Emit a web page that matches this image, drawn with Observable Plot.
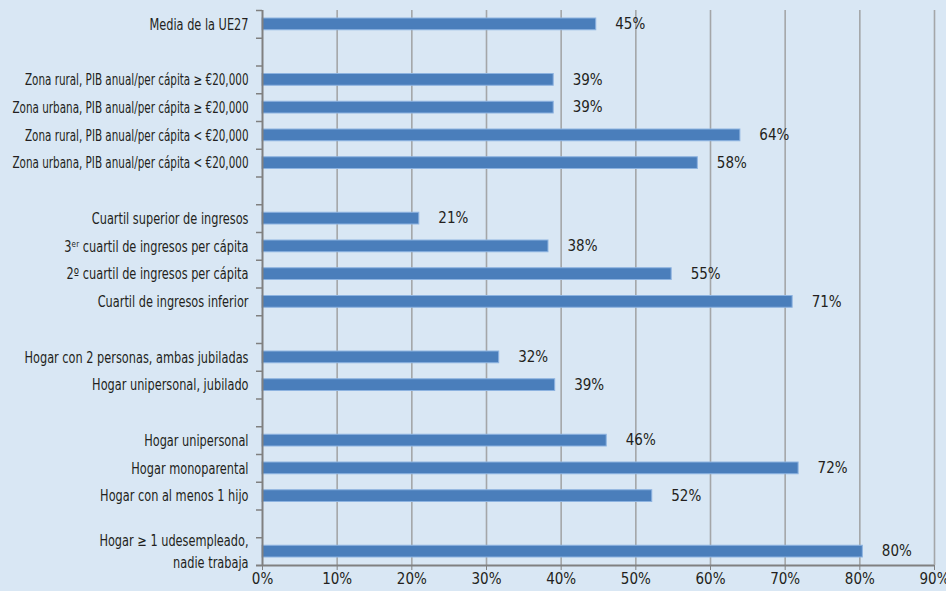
<!DOCTYPE html>
<html><head><meta charset="utf-8">
<script src="https://cdn.jsdelivr.net/npm/d3@7"></script>
<script src="https://cdn.jsdelivr.net/npm/@observablehq/plot@0.6"></script>
<style>
body{margin:0;background:#d9e7f4}
#chart svg{display:block;background:linear-gradient(to right,#eef4fa 9px,#d9e7f4 9px)}
</style>
</head><body><div id="chart"></div>
<script>
const slots = [
  "Media de la UE27", "gap1",
  "Zona rural, PIB anual/per cápita ≥ €20,000",
  "Zona urbana, PIB anual/per cápita ≥ €20,000",
  "Zona rural, PIB anual/per cápita < €20,000",
  "Zona urbana, PIB anual/per cápita < €20,000", "gap2",
  "Cuartil superior de ingresos",
  "3ᵉʳ cuartil de ingresos per cápita",
  "2º cuartil de ingresos per cápita",
  "Cuartil de ingresos inferior", "gap3",
  "Hogar con 2 personas, ambas jubiladas",
  "Hogar unipersonal, jubilado", "gap4",
  "Hogar unipersonal",
  "Hogar monoparental",
  "Hogar con al menos 1 hijo", "gap5",
  "Hogar ≥ 1 udesempleado,\nnadie trabaja"
];
const categories = slots.filter(s => !s.startsWith("gap"));
const values = [44.7, 39, 39, 64, 58.3, 21, 38.3, 54.8, 71, 31.7, 39.2, 46.1, 71.8, 52.2, 80.4];
const xTicks = [0, 10, 20, 30, 40, 50, 60, 70, 80, 90];

const data = categories.map((c, i) => ({c, v: values[i]}));
const font = '"Liberation Sans Narrow","DejaVu Sans Condensed","Roboto",sans-serif';
const W = 946, H = 591, mt = 10, mb = 26, ml = 262, mr = 12;
const step = (H - mt - mb) / slots.length;
const pxPerUnit = (W - ml - mr) / 90;
const tickLen = 6 / pxPerUnit;

const chart = Plot.plot({
  width: W, height: H,
  marginLeft: ml, marginRight: mr, marginTop: mt, marginBottom: mb,
  style: {fontFamily: font, fontSize: "15px", color: "#231f20", background: "transparent", overflow: "visible"},
  x: {domain: [0, 90], ticks: xTicks, label: null},
  y: {domain: slots, padding: 0, round: false, label: null},
  marks: [
    Plot.ruleX(xTicks.slice(1), {stroke: "#a4a6a8", strokeWidth: 1.6}),
    Plot.barX(data, {x: "v", y: "c", fill: "#4a7ebb", stroke: "#8db3e0", strokeWidth: 1, insetTop: 8, insetBottom: 8}),
    Plot.text(data, {x: "v", y: "c", text: d => d3.format(".0f")(d.v) + "%", dx: 19, textAnchor: "start", fill: "#231f20", fontSize: 15}),
    Plot.ruleY(slots, {y: d => d, x1: -tickLen, x2: 0, dy: -step / 2, stroke: "#808080", strokeWidth: 1.5}),
    Plot.ruleY([slots[slots.length - 1]], {y: d => d, x1: -tickLen, x2: 90, dy: step / 2, stroke: "#808080", strokeWidth: 2}),
    Plot.ruleX([0], {stroke: "#808080", strokeWidth: 2}),
    Plot.axisX({ticks: xTicks, tickSize: 5, tickPadding: 3, tickFormat: d => d + "%", label: null, stroke: "#808080", fill: "#231f20", fontSize: 15}),
    Plot.axisY({tickSize: 0, tickPadding: 14, tickFormat: d => d.startsWith("gap") ? "" : d, label: null, fill: "#231f20", fontSize: 15, lineHeight: 1.5, dy: -2})
  ]
});
document.getElementById("chart").append(chart);

// condense the category labels to mimic the narrow typeface of the original
chart.querySelectorAll('g[aria-label="y-axis tick label"] text').forEach(t => {
  const spans = t.querySelectorAll("tspan");
  const els = spans.length ? Array.from(spans) : [t];
  els.forEach(e => {
    const L = e.getComputedTextLength();
    const f = e.textContent.includes("€") ? 0.77 : 0.84;
    if (L > 0) {
      e.setAttribute("textLength", (L * f).toFixed(1));
      e.setAttribute("lengthAdjust", "spacingAndGlyphs");
    }
  });
});
</script>
</body></html>
